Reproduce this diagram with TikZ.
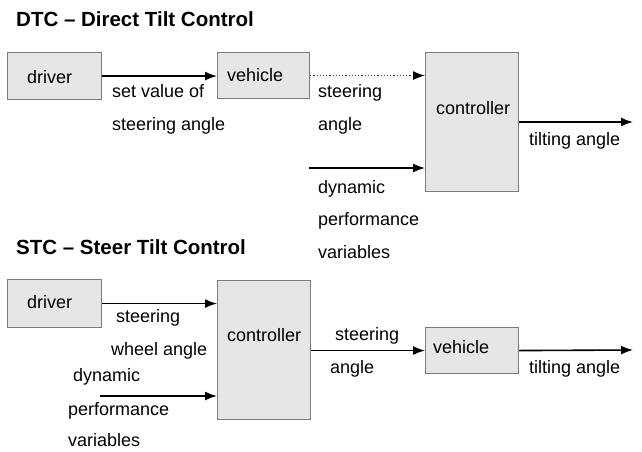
\documentclass[tikz,border=0pt]{standalone}
\usepackage{fontspec}
\setmainfont{Liberation Sans}
\usetikzlibrary{arrows.meta}
\definecolor{boxfill}{HTML}{E6E6E6}
\definecolor{boxline}{HTML}{7A7A7A}
\tikzset{
  blk/.style={draw=boxline, fill=boxfill, line width=1.1pt, anchor=north west, inner sep=0pt},
  lbl/.style={anchor=base west, inner sep=0pt, font=\fontsize{18}{21}\selectfont},
  ttl/.style={anchor=base west, inner sep=0pt, font=\fontsize{20.5}{24}\selectfont\bfseries},
  flow/.style={line width=1.6pt, -{Latex[length=12pt,width=9pt]}},
  dotflow/.style={line width=1.2pt, dotted, draw=black!75, -{Latex[length=12pt,width=9pt,black,fill=black]}}
}
\begin{document}
\begin{tikzpicture}[x=1pt, y=-1pt]
\useasboundingbox (0,0) rectangle (642,451);

% ---------- Direct Tilt Control ----------
\node[ttl] (t1) at (16,26) {DTC – Direct Tilt Control};

\node[blk, minimum width=94pt, minimum height=47pt] (drv1) at (7,52) {};
\node[lbl] (drv1t) at (27,83) {driver};
\node[blk, minimum width=92pt, minimum height=46pt] (veh1) at (217,52) {};
\node[lbl] (veh1t) at (227,81) {vehicle};
\node[blk, minimum width=93pt, minimum height=139pt] (ctl1) at (425,52) {};
\node[lbl] (ctl1t) at (436,114) {controller};

\draw[flow] (drv1.east) -- (drv1.east -| veh1.west);
\draw[dotflow] (veh1.east) -- (veh1.east -| ctl1.west);
\coordinate (dyn1) at (309,168);
\draw[flow] (dyn1) -- (dyn1 -| ctl1.west);
\coordinate (out1) at (633,122);
\draw[flow] (ctl1.east |- out1) -- (out1);

\node[lbl] (l1a) at (112,97) {set value of};
\node[lbl] (l1b) at (112,130) {steering angle};
\node[lbl] (l1c) at (318,97) {steering};
\node[lbl] (l1d) at (318,130) {angle};
\node[lbl] (l1e) at (318,193) {dynamic};
\node[lbl] (l1f) at (318,225) {performance};
\node[lbl] (l1g) at (318,258) {variables};
\node[lbl] (l1h) at (529,145) {tilting angle};

% ---------- Steer Tilt Control ----------
\node[ttl] (t2) at (16,254) {STC – Steer Tilt Control};

\node[blk, minimum width=94pt, minimum height=48pt] (drv2) at (7,279) {};
\node[lbl] (drv2t) at (27,308) {driver};
\node[blk, minimum width=93pt, minimum height=139pt] (ctl2) at (217,280) {};
\node[lbl] (ctl2t) at (227,341) {controller};
\node[blk, minimum width=93pt, minimum height=46pt] (veh2) at (425,327) {};
\node[lbl] (veh2t) at (433,353) {vehicle};

\draw[flow] (drv2.east) -- (drv2.east -| ctl2.west);
\coordinate (dyn2) at (100,396);
\draw[flow] (dyn2) -- (dyn2 -| ctl2.west);
\draw[flow] (ctl2.east |- veh2.west) -- (veh2.west);
\coordinate (out2) at (633,350);
\draw[flow] (veh2.east) -- (out2);

\node[lbl] (l2a) at (116,322) {steering};
\node[lbl] (l2b) at (111,355) {wheel angle};
\node[lbl] (l2c) at (73,381) {dynamic};
\node[lbl] (l2d) at (68,415) {performance};
\node[lbl] (l2e) at (68,446) {variables};
\node[lbl] (l2f) at (335,340) {steering};
\node[lbl] (l2g) at (330,373) {angle};
\node[lbl] (l2h) at (529,373) {tilting angle};
\end{tikzpicture}
\end{document}
